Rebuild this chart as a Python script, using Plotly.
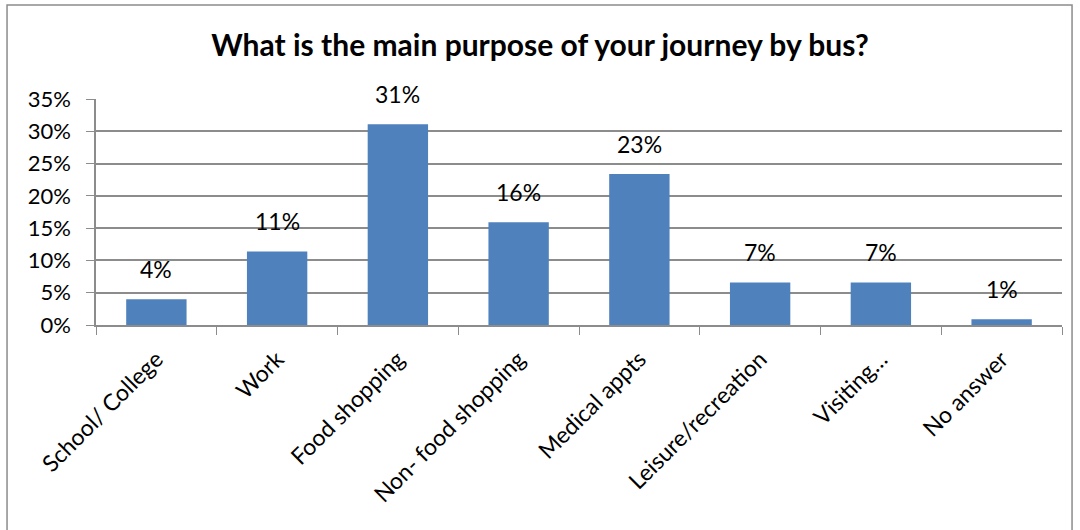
import plotly.graph_objects as go

categories = ["School/ College", "Work", "Food shopping", "Non- food shopping",
              "Medical appts", "Leisure/recreation", "Visiting…", "No answer"]
shares = [0.040, 0.114, 0.311, 0.159, 0.234, 0.066, 0.066, 0.009]
y_ticks = [0, 0.05, 0.10, 0.15, 0.20, 0.25, 0.30, 0.35]
y_tick_labels = ["0%", "5%", "10%", "15%", "20%", "25%", "30%", "35%"]

labels = [f"{int(v * 100 + 0.5)}%" for v in shares]

FONT = "Lato, Calibri, Carlito, sans-serif"
GRID = "#8c8c8c"

fig = go.Figure(
    go.Bar(
        x=categories,
        y=shares,
        marker=dict(color="#4F81BD", line=dict(width=0)),
        width=0.5,
        cliponaxis=False,
    )
)

# value labels floating above each bar
for cat, val, lab in zip(categories, shares, labels):
    fig.add_annotation(
        x=cat, y=val, text=lab, showarrow=False,
        xref="x", yref="y", yanchor="bottom", yshift=14,
        font=dict(family=FONT, size=23, color="#000000"),
    )

fig.update_layout(
    width=1080,
    height=530,
    margin=dict(l=96, r=18, t=99, b=205),
    paper_bgcolor="white",
    plot_bgcolor="white",
    showlegend=False,
    title=dict(
        text="<b>What is the main purpose of your journey by bus?</b>",
        x=0.5,
        xanchor="center",
        y=0.915,
        yanchor="middle",
        font=dict(family=FONT, size=30, color="#000000"),
    ),
    font=dict(family=FONT, color="#000000"),
)

fig.update_yaxes(
    range=[0, 0.35],
    tickvals=y_ticks,
    ticktext=[t + "\u2002" for t in y_tick_labels],
    tickfont=dict(family=FONT, size=22, color="#000000"),
    showgrid=True,
    gridcolor=GRID,
    gridwidth=1.5,
    showline=True,
    linecolor=GRID,
    linewidth=1.5,
    ticks="outside",
    ticklen=8,
    tickcolor=GRID,
    zeroline=False,
)

fig.update_xaxes(
    tickangle=-45,
    tickfont=dict(family=FONT, size=23, color="#000000"),
    ticklabelstandoff=10,
    showline=True,
    linecolor=GRID,
    linewidth=1.5,
    ticks="outside",
    tickson="boundaries",
    ticklen=8,
    tickcolor=GRID,
    showgrid=False,
)

# chart frame
fig.add_shape(
    type="rect",
    xref="paper", yref="paper",
    x0=-0.0921, x1=1.0104, y0=-1.2, y1=1.416,
    line=dict(color="#8c8c8c", width=1.5),
    fillcolor="rgba(0,0,0,0)",
    layer="below",
)

fig.write_html("out.html")
